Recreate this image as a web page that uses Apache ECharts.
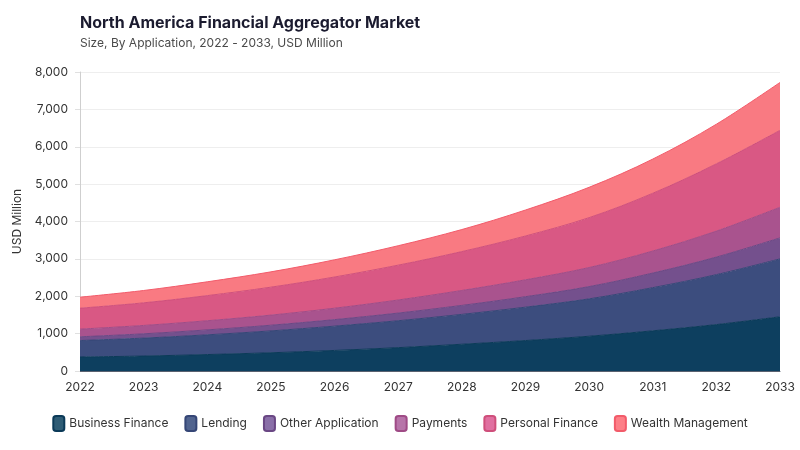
<!DOCTYPE html>
<html>
<head>
<meta charset="utf-8">
<script src="https://cdn.jsdelivr.net/npm/echarts@6/dist/echarts.min.js"></script>
<style>
  html, body { margin: 0; padding: 0; background: #fff; }
  #chart { width: 800px; height: 450px; }
</style>
</head>
<body>
<div id="chart"></div>
<script>
// data (USD Million)
const years = ['2022', '2023', '2024', '2025', '2026', '2027', '2028', '2029', '2030', '2031', '2032', '2033'];
const businessFinance = [375, 400, 440, 488, 550, 625, 716, 815, 930, 1075, 1242, 1451];
const lending = [440, 480, 528, 585, 650, 720, 799, 893, 1000, 1155, 1336, 1549];
const otherApplication = [100, 115, 132, 152, 175, 205, 240, 280, 328, 390, 470, 561];
const payments = [205, 224, 245, 270, 305, 350, 400, 452, 510, 590, 695, 820];
const personalFinance = [560, 605, 672, 748, 835, 932, 1040, 1172, 1335, 1545, 1800, 2058];
const wealthManagement = [295, 330, 370, 410, 460, 520, 590, 695, 812, 915, 1060, 1282];
const yTicks = [0, 1000, 2000, 3000, 4000, 5000, 6000, 7000, 8000];

const font = 'Inter, "Noto Sans", sans-serif';

const seriesList = [
  { name: 'Business Finance', data: businessFinance, legend: '#2e5c75', fill: '#0d3f5f', line: '#0b3a58' },
  { name: 'Lending', data: lending, legend: '#51648f', fill: '#3c4d7e', line: '#354676' },
  { name: 'Other Application', data: otherApplication, legend: '#8a6fa8', fill: '#74508d', line: '#6a4784' },
  { name: 'Payments', data: payments, legend: '#b774a9', fill: '#a9538e', line: '#9f4b86' },
  { name: 'Personal Finance', data: personalFinance, legend: '#e070a0', fill: '#d95884', line: '#cf4f7b' },
  { name: 'Wealth Management', data: wealthManagement, legend: '#fd7f87', fill: '#f97a82', line: '#f25b6a' },
];

const chart = echarts.init(document.getElementById('chart'));

chart.setOption({
  animation: false,
  textStyle: { fontFamily: font },
  title: {
    text: 'North America Financial Aggregator Market',
    subtext: 'Size, By Application, 2022 - 2033, USD Million',
    left: 75,
    top: 10,
    itemGap: 6,
    textStyle: { fontFamily: font, fontSize: 16, fontWeight: 'bold', color: '#1b1b2f' },
    subtextStyle: { fontFamily: font, fontSize: 12, color: '#4a4a4a' },
  },
  legend: {
    bottom: 13,
    left: 'center',
    icon: 'roundRect',
    itemWidth: 11,
    itemHeight: 15,
    itemGap: 16,
    textStyle: { fontFamily: font, fontSize: 12, color: '#333' },
    data: seriesList.map(({ name }) => name),
  },
  grid: {
    left: 80,
    right: 20,
    top: 72,
    bottom: 79,
  },
  xAxis: {
    type: 'category',
    boundaryGap: false,
    data: years,
    axisLine: { lineStyle: { color: '#5a6270', width: 1 } },
    axisTick: { show: false },
    axisLabel: { color: '#333', fontSize: 12, margin: 10 },
  },
  yAxis: {
    type: 'value',
    min: yTicks[0],
    max: yTicks[yTicks.length - 1],
    interval: 1000,
    name: 'USD Million',
    nameLocation: 'middle',
    nameGap: 54,
    nameTextStyle: { color: '#333', fontSize: 12 },
    axisLine: { show: true, lineStyle: { color: '#cfcfcf' } },
    axisTick: { show: true, length: 5, lineStyle: { color: '#e0e0e0' } },
    axisLabel: {
      color: '#333',
      fontSize: 12,
      margin: 12,
      formatter: (v) => v.toLocaleString('en-US'),
    },
    splitLine: { lineStyle: { color: '#eeeeee' } },
  },
  series: seriesList.map((s) => ({
    name: s.name,
    type: 'line',
    stack: 'total',
    smooth: 0.35,
    symbol: 'none',
    data: s.data,
    itemStyle: { color: s.legend, borderColor: s.line, borderWidth: 1 },
    lineStyle: { color: s.line, width: 1 },
    areaStyle: { color: s.fill, opacity: 1 },
  })),
});
</script>
</body>
</html>
